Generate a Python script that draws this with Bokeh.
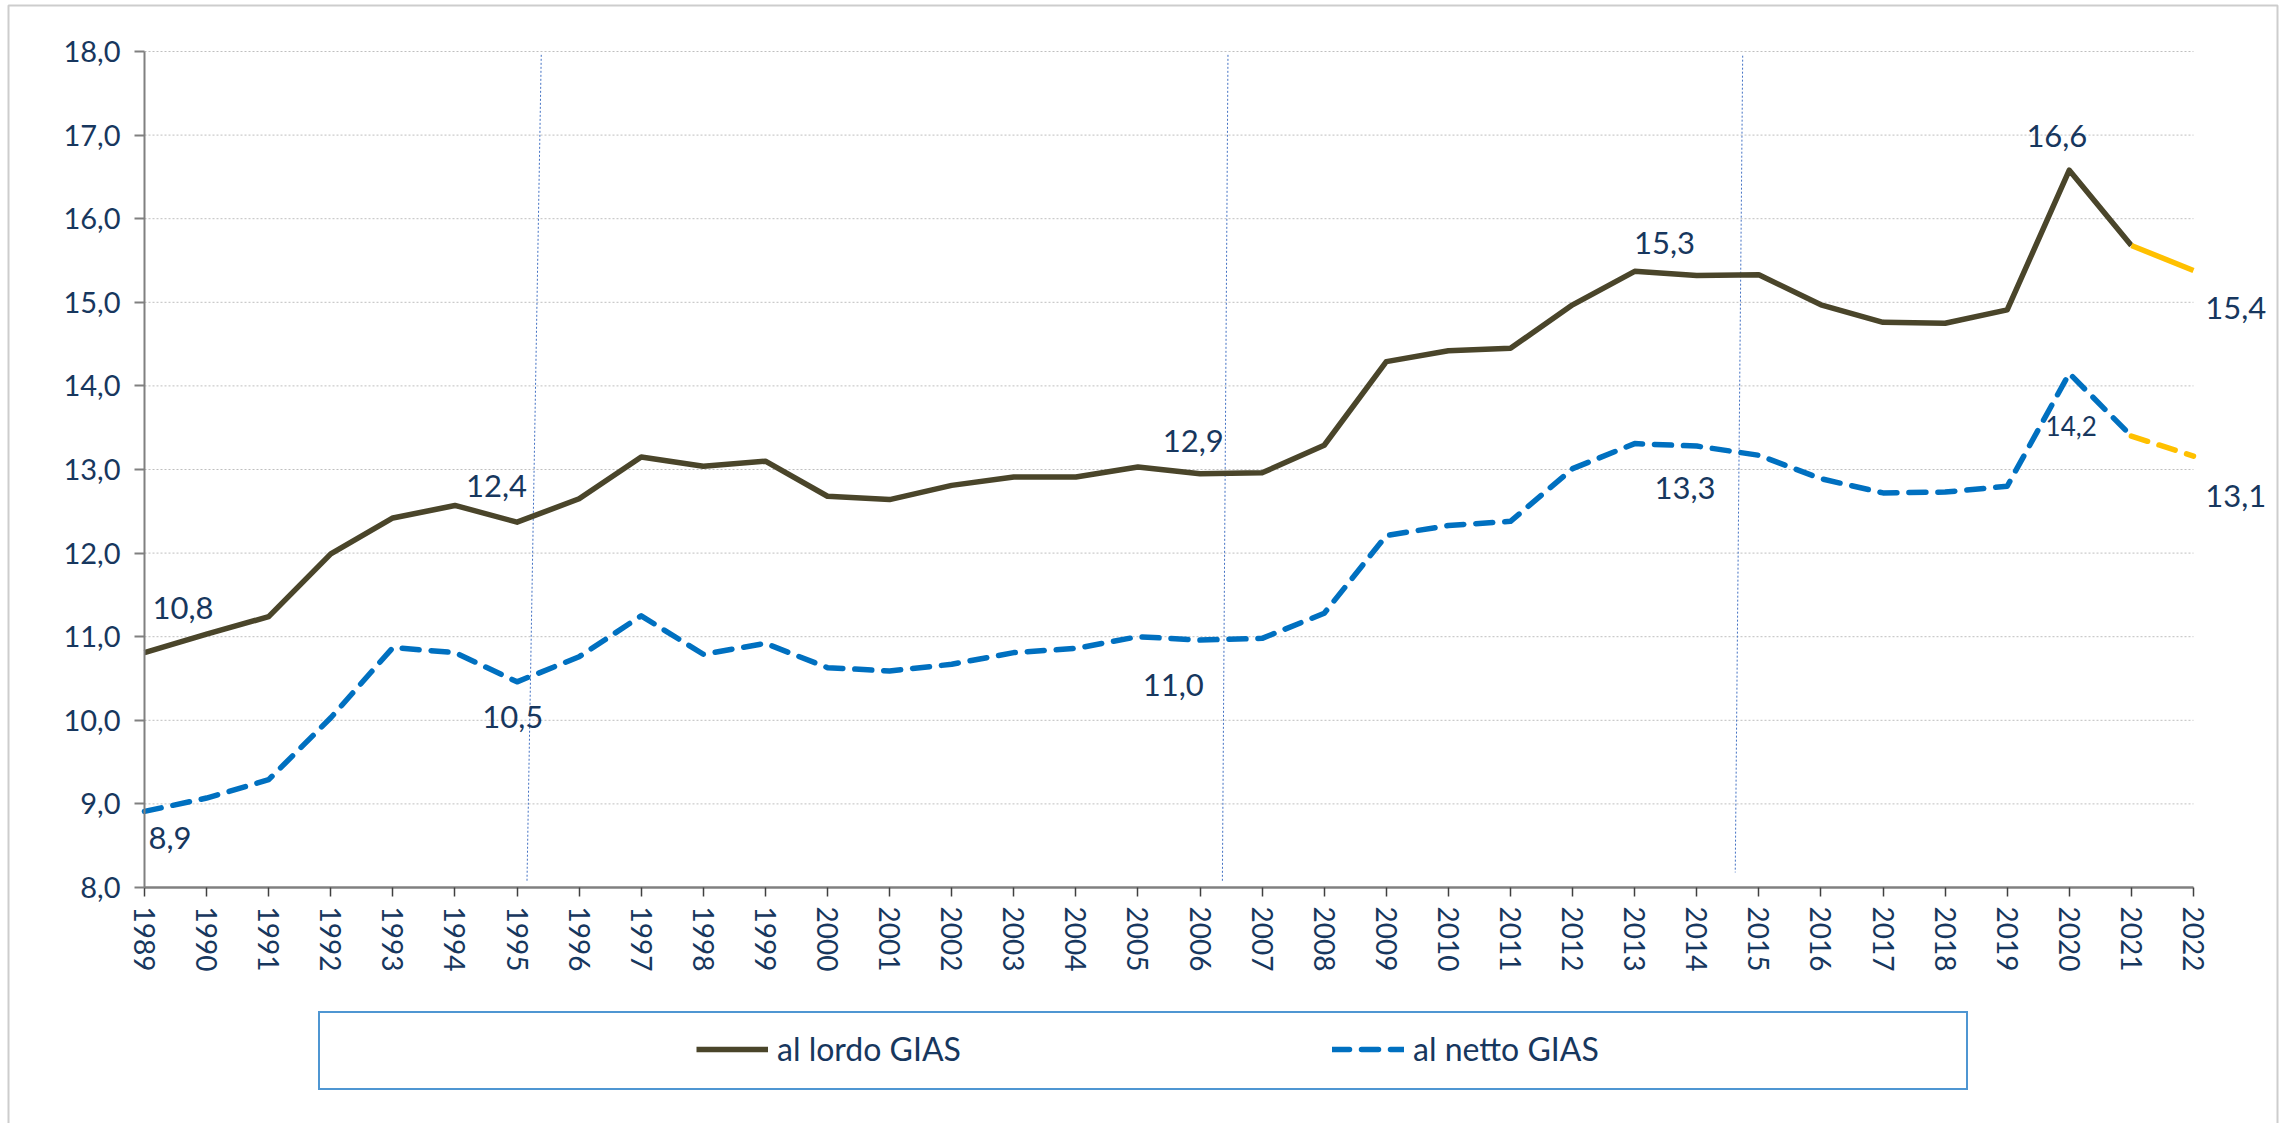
from bokeh.plotting import figure
from bokeh.models import (ColumnDataSource, Range1d, FixedTicker, Legend, LegendItem,
                          LabelSet, BoxAnnotation)
from bokeh.core.properties import value
from bokeh.embed import file_html
from bokeh.resources import INLINE

# ---------------- data ----------------
years = list(range(1989, 2023))
lordo = [10.81, 11.03, 11.24, 11.99, 12.42, 12.57, 12.37, 12.65, 13.15, 13.04,
         13.10, 12.68, 12.64, 12.81, 12.91, 12.91, 13.03, 12.95, 12.96, 13.29,
         14.29, 14.42, 14.45, 14.97, 15.37, 15.32, 15.33, 14.97, 14.76, 14.75,
         14.91, 16.58, 15.68, 15.38]
netto = [8.91, 9.07, 9.29, 10.03, 10.87, 10.81, 10.46, 10.76, 11.25, 10.79,
         10.92, 10.63, 10.59, 10.67, 10.81, 10.86, 11.00, 10.96, 10.98, 11.28,
         12.21, 12.33, 12.38, 13.01, 13.31, 13.28, 13.17, 12.89, 12.72, 12.73,
         12.80, 14.15, 13.40, 13.16]
series_names = ["al lordo GIAS", "al netto GIAS"]

y_ticks = [8, 9, 10, 11, 12, 13, 14, 15, 16, 17, 18]
y_tick_labels = ["8,0", "9,0", "10,0", "11,0", "12,0", "13,0", "14,0", "15,0", "16,0", "17,0", "18,0"]
x_tick_labels = [str(y) for y in years]

# data labels: text, series, year they belong to
label_texts = ["10,8", "8,9", "12,4", "10,5", "12,9", "11,0", "15,3", "13,3", "16,6", "14,2", "15,4", "13,1"]
label_series = ["lordo", "netto", "lordo", "netto", "lordo", "netto", "lordo", "netto", "lordo", "netto", "lordo", "netto"]
label_years = [1989, 1989, 1995, 1995, 2006, 2006, 2013, 2013, 2020, 2020, 2022, 2022]
# label placement offsets (years, value units) relative to the point
label_dx = [0.62, 0.41, -0.33, -0.07, -0.11, -0.43, 0.48, 0.81, -0.20, 0.03, 0.68, 0.68]
label_dy = [0.53, -0.32, 0.43, -0.42, 0.39, -0.54, 0.34, -0.53, 0.41, -0.63, -0.45, -0.48]
label_sizes = ["31px"] * 9 + ["26px"] + ["31px"] * 2

# thin marker lines (slightly slanted)
vline_x_top = [1995.39, 2006.45, 2014.74]
vline_x_bot = [1995.16, 2006.36, 2014.62]
vline_y_top = [17.96, 17.96, 17.95]
vline_y_bot = [8.06, 8.06, 8.18]

# ---------------- layout / styles ----------------
W, H = 2285, 1123
PX_LEFT, PX_TOP = 144, 51          # where 1989 / 18,0 sit
PX_PER_YEAR, PX_PER_UNIT = 62.09, 83.6
x_start = years[0] - PX_LEFT / PX_PER_YEAR
x_end = years[0] + (W - PX_LEFT) / PX_PER_YEAR
y_end = y_ticks[-1] + PX_TOP / PX_PER_UNIT
y_start = y_ticks[-1] - (H - PX_TOP) / PX_PER_UNIT

TEXT = "#17375E"
FONT = "Lato"
C_LORDO = "#4A452A"
C_NETTO = "#0070C0"
C_PROJ = "#FFC000"
AXIS = "#808080"

p = figure(width=W, height=H, x_range=Range1d(x_start, x_end), y_range=Range1d(y_start, y_end),
           output_backend="svg", toolbar_location=None,
           min_border_left=0, min_border_right=0, min_border_top=0, min_border_bottom=0)
p.outline_line_color = None
p.background_fill_color = "white"
p.border_fill_color = "white"
p.xgrid.visible = False
p.ygrid.visible = False

# horizontal grid lines limited to the year span
grid_vals = y_ticks[1:]
p.segment(x0=[years[0]] * len(grid_vals), x1=[years[-1]] * len(grid_vals), y0=grid_vals, y1=grid_vals,
          line_color="#BFBFBF", line_width=1, line_dash="2 2")

ya = p.yaxis[0]
ya.fixed_location = years[0]
ya.bounds = (y_ticks[0], y_ticks[-1])
ya.ticker = FixedTicker(ticks=y_ticks)
ya.major_label_overrides = dict(zip(y_ticks, y_tick_labels))
ya.axis_line_color = AXIS
ya.axis_line_width = 2
ya.major_tick_line_color = AXIS
ya.major_tick_line_width = 2
ya.major_tick_out = 10
ya.major_tick_in = 0
ya.minor_tick_out = 0
ya.minor_tick_in = 0
ya.major_label_text_font = FONT
ya.major_label_text_font_size = "29px"
ya.major_label_text_color = TEXT
ya.major_label_standoff = 14

xa = p.xaxis[0]
xa.fixed_location = y_ticks[0]
xa.bounds = (years[0], years[-1])
xa.ticker = FixedTicker(ticks=years)
xa.major_label_overrides = dict(zip(years, x_tick_labels))
xa.major_label_orientation = "vertical"
xa.axis_line_color = AXIS
xa.axis_line_width = 2.5
xa.major_tick_line_color = "#404040"
xa.major_tick_line_width = 1.5
xa.major_tick_out = 9
xa.major_tick_in = 0
xa.minor_tick_out = 0
xa.minor_tick_in = 0
xa.major_label_text_font = FONT
xa.major_label_text_font_size = "28px"
xa.major_label_text_color = TEXT
xa.major_label_standoff = 10

# marker lines
p.segment(x0=vline_x_top, y0=vline_y_top, x1=vline_x_bot, y1=vline_y_bot,
          line_color="#4472C4", line_width=1, line_dash="2 2")

# series
r_lordo = p.line(years[:-1], lordo[:-1], line_color=C_LORDO, line_width=5.5, line_join="round")
p.line(years[-2:], lordo[-2:], line_color=C_PROJ, line_width=5.5, line_join="round")
r_netto = p.line(years[:-1], netto[:-1], line_color=C_NETTO, line_width=5.5, line_dash="17 12",
                 line_cap="round", line_join="round")
p.line(years[-2:], netto[-2:], line_color=C_PROJ, line_width=5.5, line_dash="17 12",
       line_cap="round", line_join="round")

# data labels
series_map = {"lordo": lordo, "netto": netto}
lx, ly = [], []
for s, yr, dx, dy in zip(label_series, label_years, label_dx, label_dy):
    v = series_map[s][years.index(yr)]
    lx.append(yr + dx)
    ly.append(v + dy)
lsrc = ColumnDataSource(dict(x=lx, y=ly, text=label_texts, size=label_sizes))
p.add_layout(LabelSet(x="x", y="y", text="text", source=lsrc, text_font=value(FONT),
                      text_font_size="size", text_color=TEXT,
                      text_align="center", text_baseline="middle"))

# legend box (frame only)
dummy = p.line(x=[], y=[], line_alpha=0)
box = Legend(items=[LegendItem(label=" ", renderers=[dummy])], location=(318, 33),
             orientation="vertical", padding=0, margin=0, spacing=0,
             glyph_width=1, glyph_height=75, label_width=1645, label_height=75, label_standoff=0,
             border_line_color="#4F96D2", border_line_width=2, border_line_alpha=1,
             background_fill_color="white", background_fill_alpha=1,
             label_text_font_size="2px")
p.add_layout(box, "center")

items = Legend(items=[LegendItem(label=series_names[0], renderers=[r_lordo]),
                      LegendItem(label=series_names[1], renderers=[r_netto])],
               location=(696, 55), orientation="horizontal", padding=0, margin=0, spacing=0,
               glyph_width=72, glyph_height=30, label_width=555, label_height=30, label_standoff=9,
               border_line_alpha=0, background_fill_alpha=0,
               label_text_font=FONT, label_text_font_size="32px", label_text_color=TEXT)
p.add_layout(items, "center")

# outer chart border
p.add_layout(BoxAnnotation(left=8, right=W - 8, top=H - 5, bottom=-20,
                           left_units="screen", right_units="screen",
                           top_units="screen", bottom_units="screen",
                           fill_alpha=0, line_color="#5a5a5a", line_width=2))

open("out.html", "w").write(file_html(p, INLINE))
